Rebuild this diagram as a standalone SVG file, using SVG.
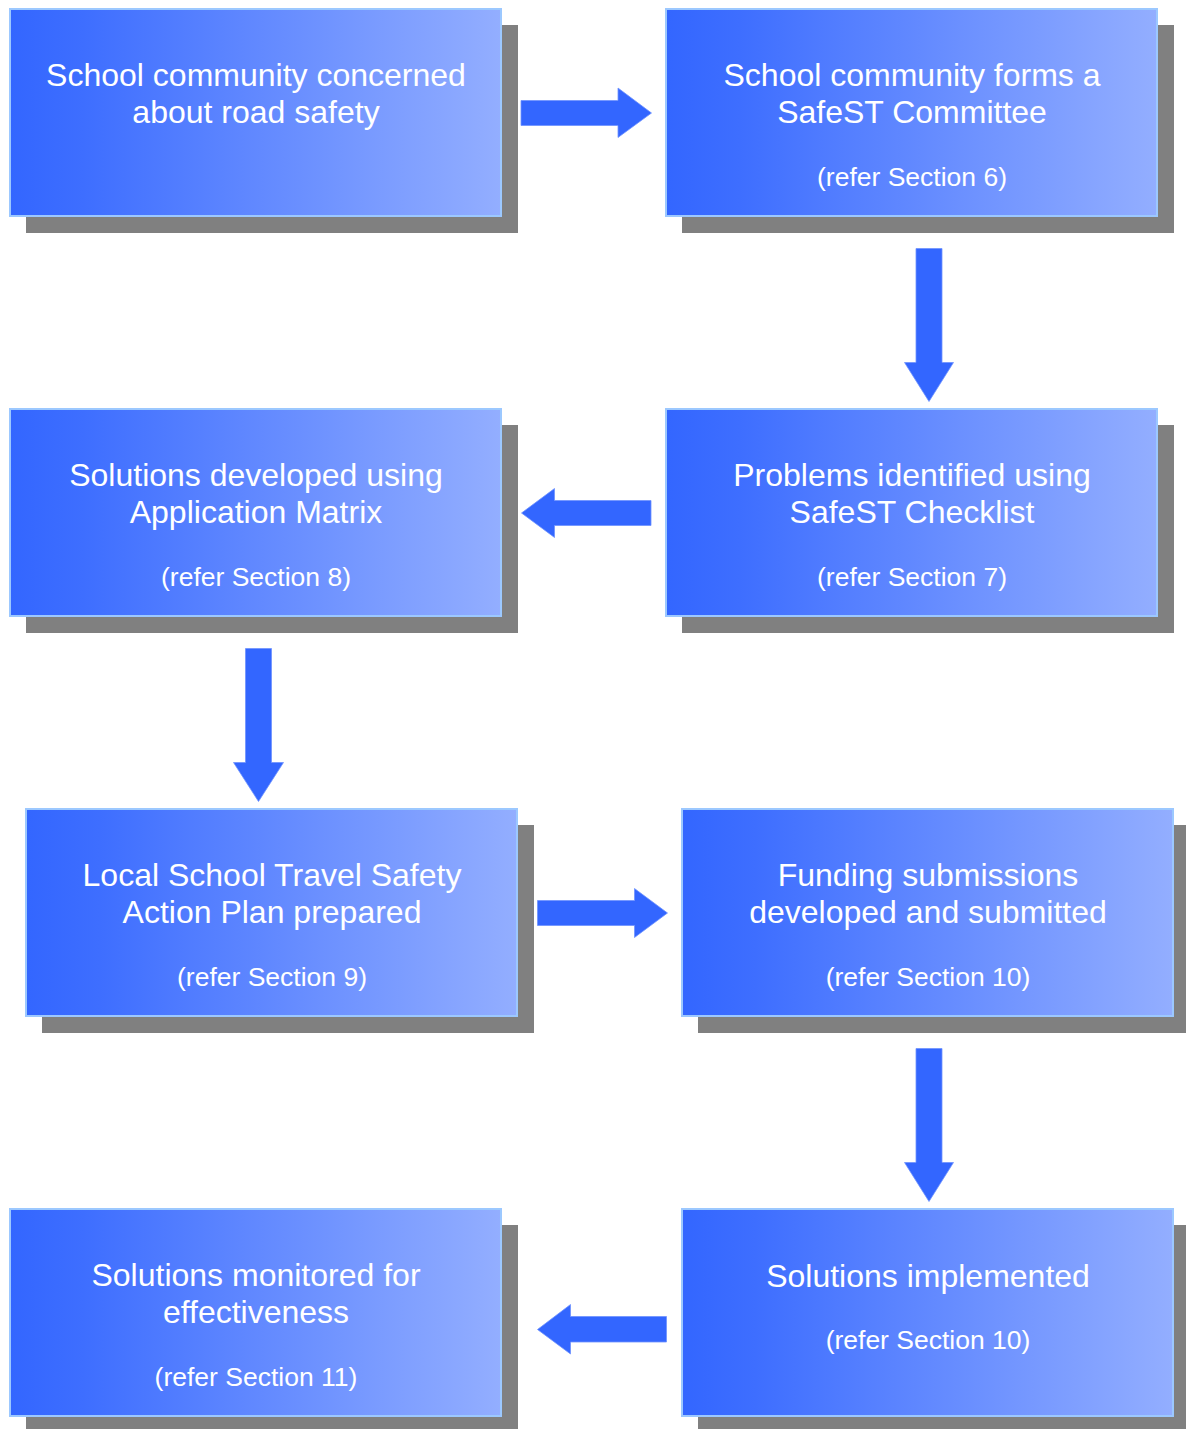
<svg xmlns="http://www.w3.org/2000/svg" width="1186" height="1429" viewBox="0 0 1186 1429">
<defs>
<linearGradient id="g" x1="0" y1="0" x2="1" y2="0">
<stop offset="0" stop-color="#3366FF"/>
<stop offset="0.15" stop-color="#3E6EFF"/>
<stop offset="1" stop-color="#93AEFF"/>
</linearGradient>
</defs>
<style>
.sh{fill:#808080}
.bx{fill:url(#g);stroke:#9CC8FF;stroke-width:2}
.t{font-family:"Liberation Sans",Arial,sans-serif;font-size:32px;fill:#FFFFFF;text-anchor:middle}
.r{font-family:"Liberation Sans",Arial,sans-serif;font-size:26.5px;fill:#FFFFFF;text-anchor:middle}
.ar{fill:#3366FF;stroke:#6E93FF;stroke-width:0.8;stroke-linejoin:miter}
</style>
<rect width="1186" height="1429" fill="#FFFFFF"/>

<g id="n1">
<rect class="sh" x="26" y="25" width="492" height="208"/>
<rect class="bx" x="10" y="9" width="491" height="207"/>
<text class="t" x="256" y="86">School community concerned</text>
<text class="t" x="256" y="122.5">about road safety</text>
</g>
<g id="n2">
<rect class="sh" x="682" y="25" width="492" height="208"/>
<rect class="bx" x="666" y="9" width="491" height="207"/>
<text class="t" x="912" y="86">School community forms a</text>
<text class="t" x="912" y="122.5">SafeST Committee</text>
<text class="r" x="912" y="185.5">(refer Section 6)</text>
</g>
<g id="n3">
<rect class="sh" x="682" y="425" width="492" height="208"/>
<rect class="bx" x="666" y="409" width="491" height="207"/>
<text class="t" x="912" y="486">Problems identified using</text>
<text class="t" x="912" y="522.5">SafeST Checklist</text>
<text class="r" x="912" y="585.5">(refer Section 7)</text>
</g>
<g id="n4">
<rect class="sh" x="26" y="425" width="492" height="208"/>
<rect class="bx" x="10" y="409" width="491" height="207"/>
<text class="t" x="256" y="486">Solutions developed using</text>
<text class="t" x="256" y="522.5">Application Matrix</text>
<text class="r" x="256" y="585.5">(refer Section 8)</text>
</g>
<g id="n5">
<rect class="sh" x="42" y="825" width="492" height="208"/>
<rect class="bx" x="26" y="809" width="491" height="207"/>
<text class="t" x="272" y="886">Local School Travel Safety</text>
<text class="t" x="272" y="922.5">Action Plan prepared</text>
<text class="r" x="272" y="985.5">(refer Section 9)</text>
</g>
<g id="n6">
<rect class="sh" x="698" y="825" width="492" height="208"/>
<rect class="bx" x="682" y="809" width="491" height="207"/>
<text class="t" x="928" y="886">Funding submissions</text>
<text class="t" x="928" y="922.5">developed and submitted</text>
<text class="r" x="928" y="985.5">(refer Section 10)</text>
</g>
<g id="n7">
<rect class="sh" x="698" y="1225" width="492" height="208"/>
<rect class="bx" x="682" y="1209" width="491" height="207"/>
<text class="t" x="928" y="1287">Solutions implemented</text>
<text class="r" x="928" y="1348.5">(refer Section 10)</text>
</g>
<g id="n8">
<rect class="sh" x="26" y="1225" width="492" height="208"/>
<rect class="bx" x="10" y="1209" width="491" height="207"/>
<text class="t" x="256" y="1286">Solutions monitored for</text>
<text class="t" x="256" y="1322.5">effectiveness</text>
<text class="r" x="256" y="1385.5">(refer Section 11)</text>
</g>

<g id="connectors">
<polygon class="ar" points="521,100.5 618,100.5 618,88 651.5,113 618,137.5 618,125.5 521,125.5"/>
<polygon class="ar" points="916,248.5 942,248.5 942,362.5 953.5,362.5 929,401.5 904.5,362.5 916,362.5"/>
<polygon class="ar" points="651,500.5 554.5,500.5 554.5,488.5 521.5,513 554.5,537.5 554.5,525.5 651,525.5"/>
<polygon class="ar" points="245.5,648.5 271.5,648.5 271.5,762.5 283.5,762.5 258.5,801.5 233.5,762.5 245.5,762.5"/>
<polygon class="ar" points="537.5,900.5 634.5,900.5 634.5,888.5 667.5,913 634.5,937.5 634.5,925.5 537.5,925.5"/>
<polygon class="ar" points="916,1048.5 942,1048.5 942,1162.5 953.5,1162.5 929,1201.5 904.5,1162.5 916,1162.5"/>
<polygon class="ar" points="666.5,1316.5 570.5,1316.5 570.5,1304.5 537.5,1329.5 570.5,1354 570.5,1342 666.5,1342"/>
</g>
</svg>
